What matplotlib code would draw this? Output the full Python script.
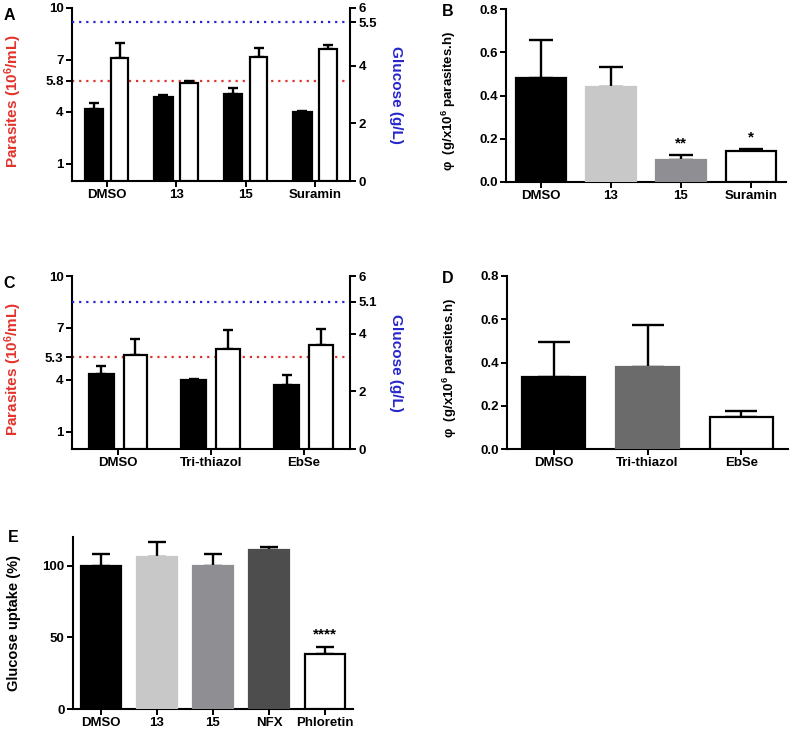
import numpy as np
import matplotlib
matplotlib.use("Agg")
import matplotlib.pyplot as plt

plt.rcParams['font.family'] = ['Liberation Sans', 'DejaVu Sans']
plt.rcParams['font.weight'] = 'bold'
plt.rcParams['font.size'] = 9.5
plt.rcParams['mathtext.fontset'] = 'custom'
plt.rcParams['mathtext.rm'] = 'Liberation Sans:bold'
plt.rcParams['mathtext.bf'] = 'Liberation Sans:bold'
plt.rcParams['mathtext.default'] = 'bf'

# ---- data ----
cats_A = ["DMSO", "13", "15", "Suramin"]
par_A = [4.15, 4.85, 5.0, 3.97]
par_err_A = [0.38, 0.12, 0.35, 0.05]
glu_A = [4.27, 3.41, 4.30, 4.59]
glu_err_A = [0.53, 0.06, 0.33, 0.11]
ref_par_A, ref_glu_A = 5.8, 5.5

phi_B = [0.483, 0.437, 0.100, 0.143]
phi_err_B = [0.174, 0.094, 0.026, 0.011]
col_B = ["black", "#c8c8c8", "#8e8e93", "white"]
stars_B = ["", "", "**", "*"]

cats_C = ["DMSO", "Tri-thiazol", "EbSe"]
par_C = [4.35, 4.0, 3.72]
par_err_C = [0.46, 0.03, 0.53]
glu_C = [3.25, 3.48, 3.62]
glu_err_C = [0.55, 0.64, 0.55]
ref_par_C, ref_glu_C = 5.3, 5.1

phi_D = [0.335, 0.378, 0.150]
phi_err_D = [0.159, 0.195, 0.025]
col_D = ["black", "#6b6b6b", "white"]

cats_E = ["DMSO", "13", "15", "NFX", "Phloretin"]
upt_E = [100, 106, 100, 111, 38.2]
upt_err_E = [8.3, 10.4, 7.8, 2.3, 4.8]
col_E = ["black", "#c8c8c8", "#8e8e93", "#4d4d4d", "white"]
stars_E = ["", "", "", "", "****"]

RED = "#e2332b"
BLUE = "#2626cc"
W, H = 789, 729
fig = plt.figure(figsize=(W / 100, H / 100), dpi=100)


def px_axes(x0, y0, x1, y1):
    return fig.add_axes([x0 / W, 1 - y1 / H, (x1 - x0) / W, (y1 - y0) / H])


def style(ax, right=False):
    for s in ['top', 'right', 'left', 'bottom']:
        ax.spines[s].set_visible(False)
    ax.spines['bottom'].set_visible(True)
    ax.spines['left'].set_visible(not right)
    if right:
        ax.spines['right'].set_visible(True)
    for s in ax.spines.values():
        s.set_linewidth(1.5)
    ax.tick_params(direction='out', length=4, width=1.4, labelsize=9.5, pad=2)


def bars(ax, x, vals, errs, colors, width, cap):
    edges = ['black' if c == 'white' else c for c in colors]
    ax.bar(x, vals, width=width, color=colors, edgecolor=edges,
           linewidth=1.6, zorder=3)
    ax.errorbar(x, vals, yerr=[np.zeros(len(vals)), errs], fmt='none',
                ecolor='black', elinewidth=1.7, capsize=cap, capthick=1.7,
                zorder=2)


def dual_panel(box, cats, par, par_err, glu, glu_err, ref_par, ref_glu, letter):
    ax = px_axes(*box)
    ax2 = ax.twinx()
    style(ax)
    style(ax2, right=True)
    ax2.spines['bottom'].set_visible(False)
    x = np.arange(len(cats))
    bars(ax, x - 0.185, par, par_err, ['black'] * len(cats), 0.27, 3.3)
    bars(ax2, x + 0.185, glu, glu_err, ['white'] * len(cats), 0.255, 3.3)
    ax.axhline(ref_par, color=RED, ls=(0, (1, 2.2)), lw=1.6, zorder=1)
    ax2.axhline(ref_glu, color=BLUE, ls=(0, (1, 2.2)), lw=1.6, zorder=1)
    ax.set_xlim(-0.5, len(cats) - 0.5)
    ax.set_ylim(0, 10)
    ax2.set_ylim(0, 6)
    ax.set_yticks([1, 4, ref_par, 7, 10])
    ax.set_yticklabels(["1", "4", f"{ref_par}", "7", "10"])
    ax2.set_yticks([0, 2, 4, ref_glu, 6])
    ax2.set_yticklabels(["0", "2", "4", f"{ref_glu}", "6"])
    ax.set_xticks(x)
    ax.set_xticklabels(cats)
    ax.text(-0.21, 0.46, "Parasites (10$^6$/mL)", color=RED, rotation=90,
            ha='center', va='center', fontsize=11, transform=ax.transAxes)
    ax2.text(1.167, 0.5, "Glucose (g/L)", color=BLUE, rotation=-90,
             ha='center', va='center', fontsize=11, transform=ax.transAxes)
    ax.text(-0.225, 1.0, letter, fontsize=11.5, ha='center', va='top',
            transform=ax.transAxes)


def phi_panel(box, cats, vals, errs, colors, width, cap, stars, letter):
    ax = px_axes(*box)
    style(ax)
    x = np.arange(len(cats))
    bars(ax, x, vals, errs, colors, width, cap)
    for xi, v, e, s in zip(x, vals, errs, stars):
        if s:
            ax.text(xi, v + e + 0.05, s, ha='center', va='center', fontsize=11)
    ax.set_xlim(-0.5, len(cats) - 0.5)
    ax.set_ylim(0, 0.8)
    ax.set_yticks([0, 0.2, 0.4, 0.6, 0.8])
    ax.set_yticklabels(["0.0", "0.2", "0.4", "0.6", "0.8"])
    ax.set_xticks(x)
    ax.set_xticklabels(cats)
    ax.text(-0.203, 0.47, "\u03c6  (g/x10$^6$ parasites.h)", rotation=90,
            ha='center', va='center', fontsize=9.5, transform=ax.transAxes)
    ax.text(-0.21, 1.03, letter, fontsize=11.5, ha='center', va='top',
            transform=ax.transAxes)


dual_panel((72, 8, 350, 181), cats_A, par_A, par_err_A, glu_A, glu_err_A,
           ref_par_A, ref_glu_A, "A")
phi_panel((506, 9, 786, 182), cats_A, phi_B, phi_err_B, col_B, 0.71, 8.5,
          stars_B, "B")
dual_panel((72, 276, 350, 449), cats_C, par_C, par_err_C, glu_C, glu_err_C,
           ref_par_C, ref_glu_C, "C")
phi_panel((507, 276, 788, 449), cats_C, phi_D, phi_err_D, col_D, 0.67, 11.5,
          ["", "", ""], "D")

# panel E
axE = px_axes(73, 537, 353, 709)
style(axE)
xE = np.arange(len(cats_E))
bars(axE, xE, upt_E, upt_err_E, col_E, 0.7, 6.8)
for xi, v, e, s in zip(xE, upt_E, upt_err_E, stars_E):
    if s:
        axE.text(xi, v + e + 9, s, ha='center', va='center', fontsize=11)
axE.set_xlim(-0.5, len(cats_E) - 0.5)
axE.set_ylim(0, 120)
axE.set_yticks([0, 50, 100])
axE.set_xticks(xE)
axE.set_xticklabels(cats_E)
axE.text(-0.211, 0.5, "Glucose uptake (%)", rotation=90, ha='center',
         va='center', fontsize=10.5, transform=axE.transAxes)
axE.text(-0.215, 1.04, "E", fontsize=11.5, ha='center', va='top',
         transform=axE.transAxes)

fig.savefig("out.png", dpi=100)
